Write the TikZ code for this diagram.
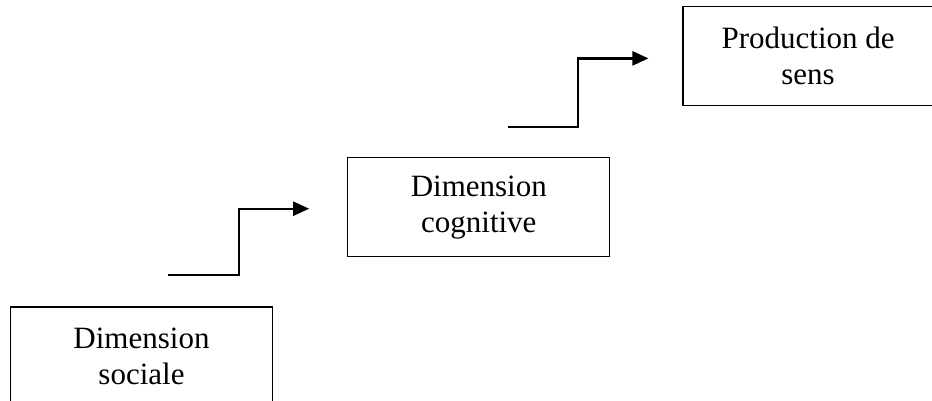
\documentclass[tikz,border=0pt]{standalone}
\usepackage{fontspec}
\setmainfont{Liberation Serif}
\usetikzlibrary{positioning}
\usetikzlibrary{arrows.meta}

\begin{document}
\begin{tikzpicture}[x=1pt,y=1pt]

                \def\dv{50pt}
                \def\dh{73pt}

                % Boxes of the three stages and the stair arrows
                \tikzset{stage/.style={draw, line width=1.3pt,
                    minimum width=262pt, minimum height=99pt,
                    align=center, font=\fontsize{31}{36}\selectfont}}
                \tikzset{stair/.style={line width=2.4pt,
                    -{Triangle[length=16pt,width=14pt]}}}

                \clip (0,0) rectangle (932,-401);

                \begin{scope}
                    \node[stage] (social) at (141.5,-356.5)
                    {Dimension\\sociale};
                    \node[stage] (cogn) [above right=49pt and 74pt of social]
                    {Dimension\\cognitive};
                    \node[stage, minimum width=250pt] (sens)
                    [above right=51pt and 72pt of cogn]
                    {Production de\\sens};

                    \coordinate (s1) at (168,-275);
                    \coordinate (e1) at ([xshift=-38pt,yshift=-1.5pt]cogn.west);
                    \coordinate (s2) at (508,-127);
                    \coordinate (e2) at ([xshift=-34pt,yshift=-2.5pt]sens.west);
                \end{scope}

                \begin{scope}
                    \draw[stair] (s1) -- ++(71,0) |- (e1);
                    \draw[stair] (s2) -- ++(70,0) |- (e2);
                \end{scope}

\end{tikzpicture}
\end{document}
